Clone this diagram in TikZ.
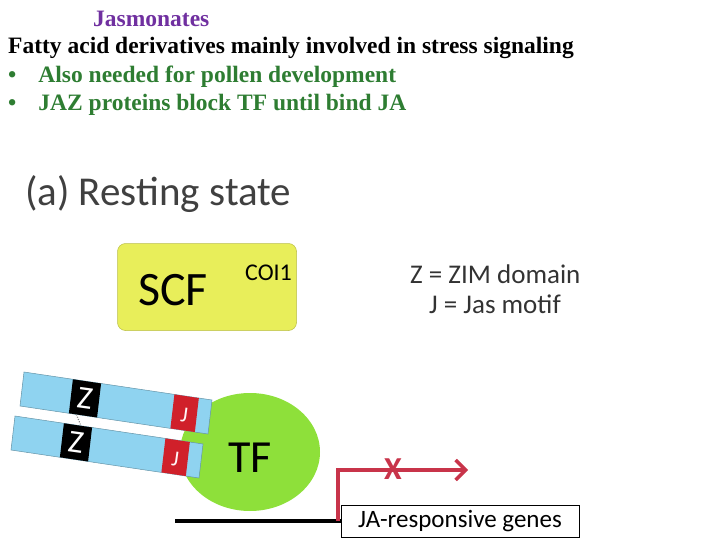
\documentclass[tikz,border=0pt]{standalone}
\usepackage{fontspec}
\setmainfont{Liberation Serif}
\newfontfamily\sansf{Carlito}
\usetikzlibrary{calc,arrows.meta,shapes.geometric}
\definecolor{purp}{HTML}{7030A0}
\definecolor{dgreen}{HTML}{2E7D32}
\definecolor{barblue}{HTML}{8FD3F0}
\definecolor{tfgreen}{HTML}{8EE03A}
\definecolor{ayellow}{HTML}{E8EE5A}
\definecolor{jred}{HTML}{D0202A}
\definecolor{arred}{HTML}{C8344A}
\begin{document}
\begin{tikzpicture}[x=1pt,y=-1pt,
  head/.style={font=\fontsize{23.5}{28}\selectfont\bfseries,anchor=west,inner sep=0},
  lbl/.style={font=\sansf\fontsize{27}{30}\selectfont,text=black!80,anchor=west,inner sep=0},
  bar/.style={fill=barblue,draw=barblue!70!black,line width=0.5},
  zbox/.style={fill=black},
  jbox/.style={fill=jred}]
\useasboundingbox (0,0) rectangle (720,540);
\node[head,text=purp] (t1) at (93,19) {Jasmonates};
\node[head] (t2) at (8,48) {Fatty acid derivatives mainly involved in stress signaling};
\node[head,text=dgreen] (b1) at (8,77) {•\hspace{22pt}Also needed for pollen development};
\node[head,text=dgreen] (b2) at (8,105) {•\hspace{22pt}JAZ proteins block TF until bind JA};
\node[font=\sansf\fontsize{41}{44}\selectfont,text=black!75,anchor=west,inner sep=0] (rs) at (25,194) {(a) Resting state};
\node[fill=ayellow,rounded corners=8,minimum width=179,minimum height=87,draw=ayellow!80!black,line width=0.5] (scf) at (207,287) {};
\node[font=\sansf\fontsize{48}{50}\selectfont,inner sep=0,anchor=west] (scft) at (138,290) {SCF};
\node[font=\sansf\fontsize{24}{26}\selectfont,inner sep=0,anchor=west] (coi) at (245,273) {COI1};
\node[lbl] (zl) at (410,274) {Z = ZIM domain};
\node[lbl] (jl) at (429,304) {J = Jas motif};
% TF
\node[ellipse,fill=tfgreen,minimum width=140,minimum height=118,inner sep=0] (tf) at (250,452) {};
\node[font=\sansf\fontsize{46}{48}\selectfont,inner sep=0] (tft) at (250,458) {TF};
% bars
\foreach \n/\dy in {u/0,l/44}{
  \coordinate (\n a) at (24-9*\dy/44,372+\dy);
  \coordinate (\n b) at (212-9*\dy/44,400+\dy);
  \coordinate (\n c) at (208-9*\dy/44,434+\dy);
  \coordinate (\n d) at (20-9*\dy/44,406+\dy);
  \fill[bar] (\n a)--(\n b)--(\n c)--(\n d)--cycle;
  \fill[zbox] ($(\n a)!0.26!(\n b)$)--($(\n a)!0.41!(\n b)$)--($(\n d)!0.41!(\n c)$)--($(\n d)!0.26!(\n c)$)--cycle;
  \node[text=white,font=\sansf\fontsize{32}{34}\selectfont,inner sep=0,rotate=-8] at ($($(\n a)!0.335!(\n b)$)!0.5!($(\n d)!0.335!(\n c)$)$) {Z};
  \fill[jbox] ($(\n a)!0.8!(\n b)$)--($(\n a)!0.93!(\n b)$)--($(\n d)!0.93!(\n c)$)--($(\n d)!0.8!(\n c)$)--cycle;
  \node[text=white!85!pink,font=\sansf\fontsize{22}{24}\selectfont,inner sep=0,rotate=-8] at ($($(\n a)!0.865!(\n b)$)!0.55!($(\n d)!0.865!(\n c)$)$) {J};
}
\draw[gray,line width=1.2,dash pattern=on 1 off 1.5] ($(ud)!0.3!(uc)$) -- ($(ua)!0.3!(ub)+(0,44)$);
% gene
\node[draw,line width=1,minimum width=238,minimum height=32,inner sep=0,font=\sansf\fontsize{25}{27}\selectfont] (g) at (460,521) {JA-responsive genes};
\coordinate (ls) at (175,521);
\coordinate (le) at (g.west|-0,521);
\draw[line width=3.5] (ls) -- (le);
\coordinate (up) at (338,470);
\coordinate (ae) at (468,470);
\draw[arred,line width=3.5,-{Straight Barb[length=10,width=20]}] (338,521) -- (up) -- (ae);
\node[text=arred,font=\sansf\bfseries\fontsize{32}{34}\selectfont,inner sep=0] (x) at (393,469) {X};
\end{tikzpicture}
\end{document}
